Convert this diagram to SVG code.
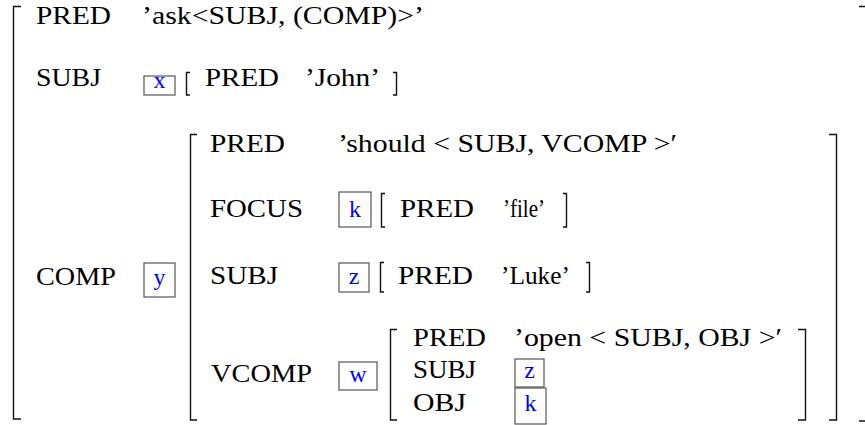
<svg xmlns="http://www.w3.org/2000/svg" width="865" height="425" viewBox="0 0 865 425">
<style>
text{font-family:"Liberation Serif","Times New Roman",serif;font-size:26px;fill:#000}
.v{fill:#0000ff;font-size:24px;text-anchor:middle}
.b{fill:none;stroke:#555;stroke-width:1.2}
.k{fill:none;stroke:#111;stroke-width:1.4}
</style>
<rect width="865" height="425" fill="#fff"/>
<g id="outer">
<path class="k" d="M21,6.5H13.5V419H21"/>
<path class="k" d="M859,6.5H865M859,421H865"/>
<text x="36" y="24" textLength="75" lengthAdjust="spacingAndGlyphs">PRED</text>
<text x="142" y="24" textLength="282" lengthAdjust="spacingAndGlyphs">’ask&lt;SUBJ, (COMP)&gt;’</text>
<text x="36" y="86" textLength="65" lengthAdjust="spacingAndGlyphs">SUBJ</text>
<text x="36" y="285" textLength="80" lengthAdjust="spacingAndGlyphs">COMP</text>
</g>
<g id="subjx">
<rect class="b" x="144" y="76" width="31" height="19"/>
<text class="v" x="159.5" y="88">x</text>
<path class="k" d="M190,72.5H186.5V95H190"/>
<text x="205" y="86" textLength="74" lengthAdjust="spacingAndGlyphs">PRED</text>
<text x="305" y="86" textLength="75" lengthAdjust="spacingAndGlyphs">’John’</text>
<path class="k" d="M393,72.5H396.5V95H393"/>
</g>
<g id="compy">
<rect class="b" x="144" y="263" width="31" height="34"/>
<text class="v" x="159.5" y="285">y</text>
<path class="k" d="M197,134.5H190.5V420H197"/>
<path class="k" d="M829,134.5H836.5V420H829"/>
<text x="210" y="152" textLength="75" lengthAdjust="spacingAndGlyphs">PRED</text>
<text x="338" y="152" textLength="339" lengthAdjust="spacingAndGlyphs">’should &lt; SUBJ, VCOMP &gt;′</text>
<text x="210" y="217" textLength="93" lengthAdjust="spacingAndGlyphs">FOCUS</text>
<text x="210" y="284" textLength="68" lengthAdjust="spacingAndGlyphs">SUBJ</text>
<text x="211" y="382" textLength="101" lengthAdjust="spacingAndGlyphs">VCOMP</text>
</g>
<g id="focusk">
<rect class="b" x="339" y="192" width="32" height="35"/>
<text class="v" x="355" y="217">k</text>
<path class="k" d="M385,193.5H381.5V227H385"/>
<text x="400" y="217" textLength="74" lengthAdjust="spacingAndGlyphs">PRED</text>
<text x="503" y="217" textLength="42" lengthAdjust="spacingAndGlyphs">’file’</text>
<path class="k" d="M563,193.5H566.5V227H563"/>
</g>
<g id="subjz">
<rect class="b" x="339" y="263" width="30" height="29"/>
<text class="v" x="354" y="284">z</text>
<path class="k" d="M384,262.5H380.5V292H384"/>
<text x="398" y="284" textLength="75" lengthAdjust="spacingAndGlyphs">PRED</text>
<text x="501" y="284" textLength="69" lengthAdjust="spacingAndGlyphs">’Luke’</text>
<path class="k" d="M586,262.5H589.5V292H586"/>
</g>
<g id="vcompw">
<rect class="b" x="339" y="362" width="38" height="28"/>
<text class="v" x="358" y="382">w</text>
<path class="k" d="M397,329.5H390.5V420H397"/>
<path class="k" d="M798,329.5H805.5V420H798"/>
<text x="413" y="346" textLength="73" lengthAdjust="spacingAndGlyphs">PRED</text>
<text x="514" y="346" textLength="268" lengthAdjust="spacingAndGlyphs">’open &lt; SUBJ, OBJ &gt;′</text>
<text x="413" y="378" textLength="63" lengthAdjust="spacingAndGlyphs">SUBJ</text>
<text x="413" y="411" textLength="53" lengthAdjust="spacingAndGlyphs">OBJ</text>
</g>
<g id="vsubjz">
<rect class="b" x="515" y="359" width="29" height="28"/>
<text class="v" x="529.5" y="378">z</text>
</g>
<g id="vobjk">
<rect class="b" x="515" y="388" width="31" height="36"/>
<text class="v" x="530.5" y="411">k</text>
</g>
</svg>
